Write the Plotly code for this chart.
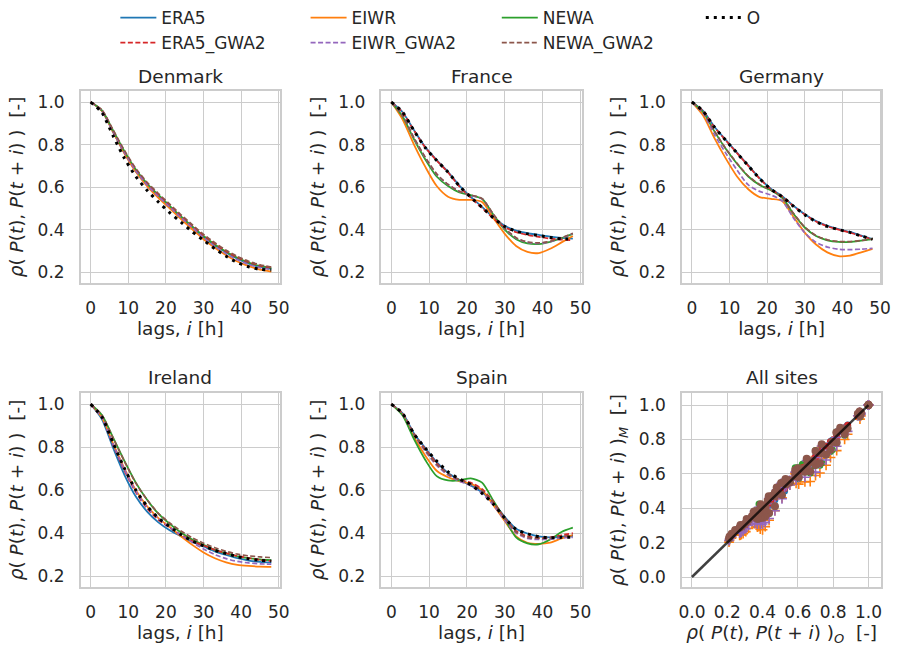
import plotly.graph_objects as go

# ---------------------------------------------------------------------------
# Autocorrelation of power output, rho(P(t), P(t+i)), for lags i = 0..48 h
# ---------------------------------------------------------------------------
LAGS = [0, 3, 6, 9, 12, 15, 18, 21, 24, 27, 30, 33, 36, 39, 42, 45, 48]

COUNTRIES = ["Denmark", "France", "Germany", "Ireland", "Spain"]

denmark = {
    "ERA5":      [1.000, 0.958, 0.858, 0.760, 0.675, 0.610, 0.555, 0.505, 0.455, 0.410, 0.365, 0.325, 0.292, 0.263, 0.240, 0.225, 0.215],
    "EIWR":      [1.000, 0.958, 0.858, 0.758, 0.672, 0.605, 0.550, 0.500, 0.450, 0.402, 0.355, 0.315, 0.280, 0.250, 0.228, 0.212, 0.203],
    "NEWA":      [1.000, 0.961, 0.865, 0.768, 0.683, 0.617, 0.563, 0.512, 0.462, 0.415, 0.370, 0.330, 0.296, 0.268, 0.245, 0.229, 0.219],
    "ERA5_GWA2": [1.000, 0.960, 0.861, 0.763, 0.680, 0.615, 0.562, 0.512, 0.463, 0.418, 0.373, 0.333, 0.298, 0.270, 0.247, 0.231, 0.222],
    "EIWR_GWA2": [1.000, 0.959, 0.860, 0.762, 0.677, 0.610, 0.556, 0.507, 0.457, 0.410, 0.363, 0.322, 0.287, 0.258, 0.236, 0.221, 0.212],
    "NEWA_GWA2": [1.000, 0.963, 0.868, 0.772, 0.688, 0.623, 0.570, 0.520, 0.470, 0.423, 0.378, 0.338, 0.303, 0.274, 0.251, 0.235, 0.224],
    "O":         [1.000, 0.950, 0.840, 0.735, 0.650, 0.585, 0.530, 0.480, 0.435, 0.390, 0.350, 0.310, 0.275, 0.245, 0.225, 0.213, 0.210],
}

france = {
    "ERA5":      [1.000, 0.952, 0.868, 0.788, 0.727, 0.672, 0.607, 0.554, 0.507, 0.457, 0.418, 0.395, 0.383, 0.375, 0.367, 0.361, 0.358],
    "EIWR":      [1.000, 0.918, 0.800, 0.695, 0.605, 0.555, 0.540, 0.540, 0.530, 0.455, 0.380, 0.323, 0.295, 0.290, 0.310, 0.340, 0.370],
    "NEWA":      [1.000, 0.932, 0.825, 0.730, 0.650, 0.605, 0.575, 0.562, 0.545, 0.470, 0.400, 0.355, 0.335, 0.332, 0.342, 0.360, 0.380],
    "ERA5_GWA2": [1.000, 0.951, 0.866, 0.786, 0.725, 0.669, 0.603, 0.550, 0.502, 0.452, 0.412, 0.388, 0.375, 0.366, 0.358, 0.353, 0.350],
    "EIWR_GWA2": [1.000, 0.936, 0.830, 0.738, 0.660, 0.612, 0.580, 0.562, 0.545, 0.470, 0.405, 0.360, 0.340, 0.335, 0.343, 0.360, 0.382],
    "NEWA_GWA2": [1.000, 0.936, 0.832, 0.740, 0.662, 0.613, 0.580, 0.563, 0.546, 0.472, 0.407, 0.362, 0.342, 0.338, 0.345, 0.362, 0.383],
    "O":         [1.000, 0.952, 0.865, 0.785, 0.725, 0.670, 0.605, 0.552, 0.505, 0.455, 0.415, 0.392, 0.380, 0.372, 0.363, 0.357, 0.355],
}

germany = {
    "ERA5":      [1.000, 0.958, 0.884, 0.822, 0.762, 0.702, 0.642, 0.592, 0.557, 0.512, 0.472, 0.440, 0.418, 0.402, 0.389, 0.372, 0.356],
    "EIWR":      [1.000, 0.937, 0.830, 0.735, 0.650, 0.590, 0.553, 0.545, 0.535, 0.460, 0.386, 0.330, 0.293, 0.275, 0.278, 0.293, 0.310],
    "NEWA":      [1.000, 0.952, 0.862, 0.780, 0.710, 0.650, 0.610, 0.585, 0.550, 0.475, 0.410, 0.370, 0.350, 0.342, 0.342, 0.348, 0.355],
    "ERA5_GWA2": [1.000, 0.957, 0.882, 0.820, 0.760, 0.700, 0.640, 0.590, 0.556, 0.511, 0.471, 0.438, 0.416, 0.400, 0.386, 0.370, 0.354],
    "EIWR_GWA2": [1.000, 0.947, 0.847, 0.760, 0.680, 0.610, 0.580, 0.563, 0.535, 0.455, 0.385, 0.340, 0.318, 0.308, 0.306, 0.308, 0.312],
    "NEWA_GWA2": [1.000, 0.953, 0.864, 0.782, 0.712, 0.652, 0.612, 0.586, 0.551, 0.477, 0.412, 0.372, 0.352, 0.344, 0.344, 0.349, 0.356],
    "O":         [1.000, 0.957, 0.882, 0.820, 0.760, 0.700, 0.640, 0.590, 0.555, 0.510, 0.470, 0.437, 0.415, 0.400, 0.387, 0.370, 0.355],
}

ireland = {
    "ERA5":      [1.000, 0.930, 0.795, 0.670, 0.570, 0.500, 0.450, 0.413, 0.385, 0.360, 0.338, 0.315, 0.298, 0.283, 0.272, 0.266, 0.263],
    "EIWR":      [1.000, 0.938, 0.815, 0.700, 0.600, 0.525, 0.470, 0.428, 0.385, 0.345, 0.310, 0.283, 0.264, 0.252, 0.247, 0.244, 0.243],
    "NEWA":      [1.000, 0.950, 0.843, 0.735, 0.635, 0.555, 0.490, 0.443, 0.403, 0.370, 0.345, 0.322, 0.305, 0.292, 0.283, 0.277, 0.274],
    "ERA5_GWA2": [1.000, 0.937, 0.808, 0.690, 0.590, 0.515, 0.462, 0.425, 0.392, 0.363, 0.342, 0.322, 0.306, 0.293, 0.284, 0.275, 0.270],
    "EIWR_GWA2": [1.000, 0.938, 0.812, 0.695, 0.595, 0.520, 0.467, 0.427, 0.390, 0.357, 0.326, 0.300, 0.281, 0.268, 0.261, 0.257, 0.255],
    "NEWA_GWA2": [1.000, 0.949, 0.841, 0.733, 0.633, 0.555, 0.492, 0.447, 0.410, 0.378, 0.353, 0.332, 0.315, 0.302, 0.294, 0.289, 0.286],
    "O":         [1.000, 0.940, 0.818, 0.700, 0.600, 0.525, 0.470, 0.430, 0.393, 0.363, 0.340, 0.320, 0.305, 0.290, 0.280, 0.273, 0.270],
}

spain = {
    "ERA5":      [1.000, 0.957, 0.864, 0.795, 0.730, 0.680, 0.648, 0.622, 0.590, 0.540, 0.475, 0.420, 0.398, 0.385, 0.380, 0.383, 0.385],
    "EIWR":      [1.000, 0.950, 0.847, 0.760, 0.690, 0.660, 0.642, 0.630, 0.600, 0.530, 0.456, 0.385, 0.355, 0.350, 0.355, 0.375, 0.390],
    "NEWA":      [1.000, 0.947, 0.837, 0.740, 0.665, 0.645, 0.645, 0.655, 0.635, 0.550, 0.465, 0.380, 0.352, 0.348, 0.370, 0.405, 0.425],
    "ERA5_GWA2": [1.000, 0.957, 0.862, 0.790, 0.725, 0.675, 0.648, 0.635, 0.605, 0.545, 0.470, 0.410, 0.385, 0.378, 0.380, 0.390, 0.400],
    "EIWR_GWA2": [1.000, 0.954, 0.857, 0.780, 0.715, 0.670, 0.642, 0.620, 0.585, 0.530, 0.460, 0.400, 0.375, 0.370, 0.372, 0.378, 0.380],
    "NEWA_GWA2": [1.000, 0.955, 0.859, 0.785, 0.720, 0.675, 0.648, 0.628, 0.598, 0.540, 0.470, 0.405, 0.380, 0.375, 0.378, 0.385, 0.390],
    "O":         [1.000, 0.957, 0.862, 0.795, 0.735, 0.685, 0.652, 0.625, 0.585, 0.535, 0.470, 0.417, 0.397, 0.383, 0.378, 0.380, 0.380],
}

SITES = {"Denmark": denmark, "France": france, "Germany": germany,
         "Ireland": ireland, "Spain": spain}

MODELS = ["ERA5", "EIWR", "NEWA", "ERA5_GWA2", "EIWR_GWA2", "NEWA_GWA2"]

# legend columns: each column holds a reanalysis and its GWA2-scaled version
LEGEND_OF = {"ERA5": "legend", "ERA5_GWA2": "legend",
             "EIWR": "legend2", "EIWR_GWA2": "legend2",
             "NEWA": "legend3", "NEWA_GWA2": "legend3",
             "O": "legend4"}

COLORS = {"ERA5": "#1f77b4", "EIWR": "#ff7f0e", "NEWA": "#2ca02c",
          "ERA5_GWA2": "#d62728", "EIWR_GWA2": "#9467bd",
          "NEWA_GWA2": "#8c564b", "O": "#000000"}
SCATTER_SYMBOL = {"ERA5": "circle", "EIWR": "cross-thin", "NEWA": "circle",
                  "ERA5_GWA2": "circle", "EIWR_GWA2": "cross-thin",
                  "NEWA_GWA2": "circle"}

FONT = "DejaVu Sans"
INK = "#262626"
W, H = 902, 646

# panel boxes in pixels: (left, right, top, bottom)
COLS = [(79, 281), (384, 587), (689, 891)]
ROWS = [(91, 283), (393, 587)]


def xdom(c):
    l, r = COLS[c]
    return [l / W, r / W]


def ydom(r):
    t, b = ROWS[r]
    return [1 - b / H, 1 - t / H]


fig = go.Figure()

# ---- line panels -------------------------------------------------------
for k, country in enumerate(COUNTRIES):
    ax = "" if k == 0 else str(k + 1)
    data = SITES[country]
    for name in MODELS + ["O"]:
        if name == "O":
            line = dict(color="black", width=3, dash="3px,5px")
        elif name.endswith("_GWA2"):
            line = dict(color=COLORS[name], width=1.7, dash="5px,2.5px")
        else:
            line = dict(color=COLORS[name], width=1.8)
        fig.add_trace(go.Scatter(
            x=LAGS, y=data[name], mode="lines", name=name,
            line=dict(shape="spline", smoothing=0.7, **line),
            xaxis="x" + ax, yaxis="y" + ax,
            showlegend=(k == 0), legend=LEGEND_OF[name],
        ))

# ---- scatter of modelled vs observed autocorrelation ---------------------
for name in MODELS:
    xs, ys = [], []
    for country in COUNTRIES:
        xs += SITES[country]["O"]
        ys += SITES[country][name]
    sym = SCATTER_SYMBOL[name]
    marker = dict(symbol=sym, size=8 if name == "NEWA_GWA2" else 7,
                  color=COLORS[name])
    if sym == "cross-thin":
        marker["line"] = dict(color=COLORS[name], width=1.6)
    else:
        marker["line"] = dict(width=0)
    fig.add_trace(go.Scatter(x=xs, y=ys, mode="markers", marker=marker,
                             xaxis="x6", yaxis="y6", showlegend=False))

fig.add_trace(go.Scatter(x=[0, 1], y=[0, 1], mode="lines",
                         line=dict(color="rgba(0,0,0,0.75)", width=2.5),
                         xaxis="x6", yaxis="y6", showlegend=False))

# ---- axes ----------------------------------------------------------------
tickfont = dict(family=FONT, size=17, color=INK)
titlefont = dict(family=FONT, size=18.5, color=INK)
base = dict(showgrid=True, gridcolor="#cccccc", gridwidth=1.2,
            showline=True, linecolor="#cccccc", linewidth=1.6, mirror=True,
            zeroline=False, ticks="", tickfont=tickfont)

NB = "\u00a0"
rho_lbl = ("<i>ρ</i>(" + NB + "<i>P</i>(<i>t</i>), <i>P</i>(<i>t</i>" + NB + "+" + NB
           + "<i>i</i>)" + NB + ")")
ylab = rho_lbl + NB + NB + "[-]"
ylab_m = rho_lbl + "<sub><i>M</i></sub>" + NB + NB + "[-]"
xlab_o = rho_lbl + "<sub><i>O</i></sub>" + NB + NB + "[-]"
xlab = "lags, <i>i</i> [h]"

layout = {}
for k in range(6):
    r, c = divmod(k, 3)
    sfx = "" if k == 0 else str(k + 1)
    if k < 5:
        xa = dict(base, domain=xdom(c), range=[-2.6, 50.3], tickvals=[0, 10, 20, 30, 40, 50],
                  ticklabelstandoff=9, anchor="y" + sfx,
                  title=dict(text=xlab, font=titlefont, standoff=3))
        ya = dict(base, domain=ydom(r), range=[0.149, 1.052],
                  tickvals=[0.2, 0.4, 0.6, 0.8, 1.0], tickformat=".1f",
                  ticklabelstandoff=11, anchor="x" + sfx,
                  title=dict(text=ylab, font=titlefont, standoff=9))
    else:
        xa = dict(base, domain=xdom(c), range=[-0.056, 1.072],
                  tickvals=[0, 0.2, 0.4, 0.6, 0.8, 1.0], tickformat=".1f",
                  ticklabelstandoff=9, anchor="y" + sfx,
                  title=dict(text=xlab_o, font=titlefont, standoff=3))
        ya = dict(base, domain=ydom(r), range=[-0.058, 1.07],
                  tickvals=[0, 0.2, 0.4, 0.6, 0.8, 1.0], tickformat=".1f",
                  ticklabelstandoff=11, anchor="x" + sfx,
                  title=dict(text=ylab_m, font=titlefont, standoff=9))
    layout["xaxis" + sfx] = xa
    layout["yaxis" + sfx] = ya

titles = COUNTRIES + ["All sites"]
title_y = [76, 377]
annotations = []
for k, t in enumerate(titles):
    r, c = divmod(k, 3)
    l, rr = COLS[c]
    annotations.append(dict(text=t, x=(l + rr) / 2 / W, y=1 - title_y[r] / H,
                            xref="paper", yref="paper", showarrow=False,
                            xanchor="center", yanchor="middle",
                            font=dict(family=FONT, size=18.5, color=INK)))

legend_style = dict(orientation="v", y=1.0, yanchor="top", xanchor="left",
                    font=dict(family=FONT, size=17, color=INK),
                    itemwidth=36, tracegroupgap=0, bgcolor="rgba(0,0,0,0)")
legend_x = {"legend": 114, "legend2": 307, "legend3": 501, "legend4": 708}
for key, px in legend_x.items():
    layout[key] = dict(legend_style, x=px / W)

fig.update_layout(
    **layout,
    width=W, height=H,
    margin=dict(l=0, r=0, t=0, b=0),
    paper_bgcolor="white", plot_bgcolor="white",
    font=dict(family=FONT, color=INK),
    annotations=annotations,
)

fig.write_html("out.html")
